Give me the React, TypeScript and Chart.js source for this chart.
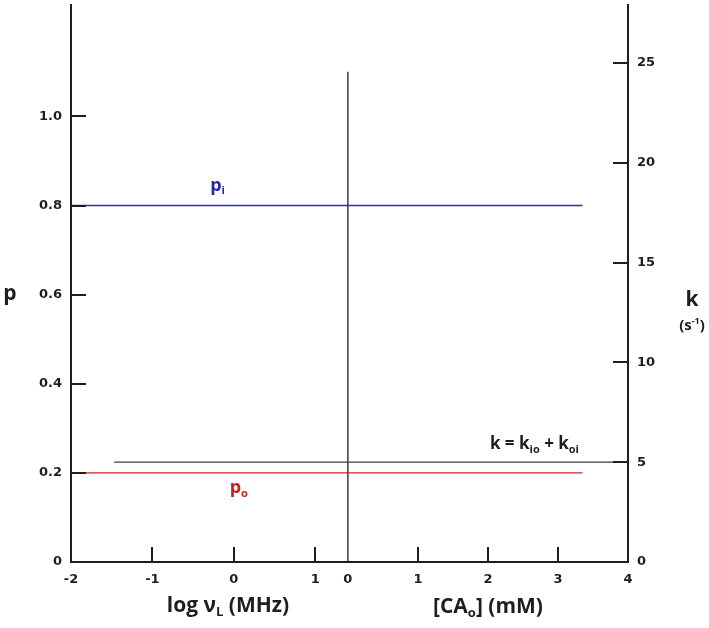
import React, { useEffect, useRef } from "react";
import { Chart, registerables } from "chart.js";

Chart.register(...registerables);

// ---- data ----
const LOG_TICKS = [-2, -1, 0, 1];        // log νL (MHz) axis ticks
const CA_TICKS = [0, 1, 2, 3, 4];        // [CAo] (mM) axis ticks
const LOG_MIN = -2;
const LOG_END = 1.4;                     // log axis ends where the [CAo] axis begins
const CA_UNIT = 0.86;                    // one mM measured in log-units of width
const P_TICKS = [0, 0.2, 0.4, 0.6, 0.8, 1.0];
const K_TICKS = [0, 5, 10, 15, 20, 25];
const P_MAX = 1.25;
const K_MAX = 27.9;

const P_I = [0.8, 0.8];                  // p_i
const P_O = [0.2, 0.2];                  // p_o
const K_SUM = [5, 5];                    // k = kio + koi (s^-1)
const P_SPAN_LOG_START = -2;
const P_SPAN_CA_END = 3.35;
const K_SPAN_LOG_START = -1.47;
const K_SPAN_CA_END = 4;
const SEPARATOR_TOP_P = 1.1;

// composite x coordinate
const fromLog = (v: number) => v - LOG_MIN;
const fromCA = (c: number) => (LOG_END - LOG_MIN) + c * CA_UNIT;

const X_TICK_POS = [...LOG_TICKS.map(fromLog), ...CA_TICKS.map(fromCA)];
const X_TICK_LABELS = [...LOG_TICKS.map(String), ...CA_TICKS.map(String)];

const TICK_FONT = { family: "'DejaVu Sans', sans-serif", size: 13, weight: "bold" as const };
const TITLE_FAMILY = "'Open Sans', Lato, sans-serif";
const AXIS = "#1e1e1e";

type Part = { t: string; sub?: boolean; sup?: boolean };

function drawRich(
  ctx: CanvasRenderingContext2D,
  parts: Part[],
  x: number,
  y: number,
  size: number,
  color: string,
  align: "center" | "right" | "left" = "center"
) {
  const small = Math.round(size * 0.62);
  const fontFor = (p: Part) => `bold ${p.sub || p.sup ? small : size}px ${TITLE_FAMILY}`;
  let total = 0;
  const widths = parts.map((p) => {
    ctx.font = fontFor(p);
    const w = ctx.measureText(p.t).width;
    total += w;
    return w;
  });
  let cx = align === "center" ? x - total / 2 : align === "right" ? x - total : x;
  ctx.save();
  ctx.fillStyle = color;
  ctx.textBaseline = "middle";
  ctx.textAlign = "left";
  parts.forEach((p, i) => {
    ctx.font = fontFor(p);
    const dy = p.sub ? size * 0.32 : p.sup ? -size * 0.32 : 0;
    ctx.fillText(p.t, cx, y + dy);
    cx += widths[i];
  });
  ctx.restore();
}

const decorPlugin = {
  id: "decor",
  afterDraw(chart: any) {
    const ctx: CanvasRenderingContext2D = chart.ctx;
    const { left, right, bottom } = chart.chartArea;
    const xs = chart.scales.x;
    const ys = chart.scales.y;
    const ks = chart.scales.y1;
    const TL = 15;

    // inward tick marks
    ctx.save();
    ctx.strokeStyle = AXIS;
    ctx.lineWidth = 2;
    ctx.beginPath();
    P_TICKS.filter((v) => v > 0).forEach((v) => {
      const py = Math.round(ys.getPixelForValue(v));
      ctx.moveTo(left, py);
      ctx.lineTo(left + TL, py);
    });
    K_TICKS.filter((v) => v > 0).forEach((v) => {
      const py = Math.round(ks.getPixelForValue(v));
      ctx.moveTo(right, py);
      ctx.lineTo(right - TL, py);
    });
    LOG_TICKS.filter((v) => v > LOG_MIN).forEach((v) => {
      const px = Math.round(xs.getPixelForValue(fromLog(v)));
      ctx.moveTo(px, bottom);
      ctx.lineTo(px, bottom - TL);
    });
    CA_TICKS.filter((c) => c > 0 && c < CA_TICKS[CA_TICKS.length - 1]).forEach((c) => {
      const px = Math.round(xs.getPixelForValue(fromCA(c)));
      ctx.moveTo(px, bottom);
      ctx.lineTo(px, bottom - TL);
    });
    ctx.stroke();
    ctx.restore();

    // in-plot labels
    const piY = ys.getPixelForValue(P_I[0]);
    const poY = ys.getPixelForValue(P_O[0]);
    const kY = ks.getPixelForValue(K_SUM[0]);
    drawRich(ctx, [{ t: "p" }, { t: "i", sub: true }], xs.getPixelForValue(fromLog(-0.2)), piY - 20, 18, "#2626a6");
    drawRich(ctx, [{ t: "p" }, { t: "o", sub: true }], xs.getPixelForValue(fromLog(0.06)), poY + 15, 18, "#c81e1e");
    drawRich(
      ctx,
      [{ t: "k = k" }, { t: "io", sub: true }, { t: " + k" }, { t: "oi", sub: true }],
      xs.getPixelForValue(fromCA(3.3)),
      kY - 18,
      17,
      "#1e1e1e",
      "right"
    );

    // axis titles
    drawRich(ctx, [{ t: "p" }], 10, 294, 21, "#1e1e1e");
    drawRich(ctx, [{ t: "k" }], 692, 300, 21, "#1e1e1e");
    drawRich(ctx, [{ t: "(s" }, { t: "-1", sup: true }, { t: ")" }], 692, 326, 15, "#1e1e1e");
    drawRich(ctx, [{ t: "log ν" }, { t: "L", sub: true }, { t: " (MHz)" }], 228, 606, 21, "#1e1e1e");
    drawRich(ctx, [{ t: "[CA" }, { t: "o", sub: true }, { t: "] (mM)" }], 488, 607, 21, "#1e1e1e");
  },
};

export default function App() {
  const ref = useRef<HTMLCanvasElement>(null);

  useEffect(() => {
    if (!ref.current) return;
    const chart = new Chart(ref.current, {
      type: "line",
      data: {
        datasets: [
          {
            label: "p_i",
            data: [
              { x: fromLog(P_SPAN_LOG_START), y: P_I[0] },
              { x: fromCA(P_SPAN_CA_END), y: P_I[1] },
            ],
            borderColor: "#3030ac",
            borderWidth: 1.4,
            pointRadius: 0,
            yAxisID: "y",
          },
          {
            label: "p_o",
            data: [
              { x: fromLog(P_SPAN_LOG_START), y: P_O[0] },
              { x: fromCA(P_SPAN_CA_END), y: P_O[1] },
            ],
            borderColor: "#cc2020",
            borderWidth: 1.4,
            pointRadius: 0,
            yAxisID: "y",
          },
          {
            label: "k",
            data: [
              { x: fromLog(K_SPAN_LOG_START), y: K_SUM[0] },
              { x: fromCA(K_SPAN_CA_END), y: K_SUM[1] },
            ],
            borderColor: "#3a3a3a",
            borderWidth: 1.3,
            pointRadius: 0,
            yAxisID: "y1",
          },
          {
            label: "separator",
            data: [
              { x: fromCA(0), y: 0 },
              { x: fromCA(0), y: SEPARATOR_TOP_P },
            ],
            borderColor: "#1e1e1e",
            borderWidth: 1.3,
            pointRadius: 0,
            yAxisID: "y",
          },
        ],
      },
      options: {
        animation: false,
        responsive: true,
        maintainAspectRatio: false,
        layout: { padding: { top: 5, left: 0, right: 0, bottom: 0 } },
        plugins: { legend: { display: false }, tooltip: { enabled: false } },
        scales: {
          x: {
            type: "linear",
            min: 0,
            max: fromCA(CA_TICKS[CA_TICKS.length - 1]),
            grid: { display: false, drawTicks: false },
            border: { display: true, color: AXIS, width: 2 },
            afterBuildTicks: (scale: any) => {
              scale.ticks = X_TICK_POS.map((v) => ({ value: v }));
            },
            afterFit: (scale: any) => {
              scale.height = 66;
              scale.paddingLeft = 0;
              scale.paddingRight = 0;
            },
            ticks: {
              autoSkip: false,
              maxRotation: 0,
              padding: 10,
              color: "#1e1e1e",
              font: TICK_FONT,
              callback: (_v: any, i: number) => X_TICK_LABELS[i],
            },
          },
          y: {
            type: "linear",
            position: "left",
            min: 0,
            max: P_MAX,
            grid: { display: false, drawTicks: false },
            border: { display: true, color: AXIS, width: 2 },
            afterBuildTicks: (scale: any) => {
              scale.ticks = P_TICKS.map((v) => ({ value: v }));
            },
            afterFit: (scale: any) => {
              scale.width = 71;
              scale.paddingTop = 0;
              scale.paddingBottom = 0;
            },
            ticks: {
              padding: 9,
              color: "#1e1e1e",
              font: TICK_FONT,
              callback: (v: any) => (Number(v) === 0 ? "0" : Number(v).toFixed(1)),
            },
          },
          y1: {
            type: "linear",
            position: "right",
            min: 0,
            max: K_MAX,
            grid: { display: false, drawTicks: false },
            border: { display: true, color: AXIS, width: 2 },
            afterBuildTicks: (scale: any) => {
              scale.ticks = K_TICKS.map((v) => ({ value: v }));
            },
            afterFit: (scale: any) => {
              scale.width = 81;
              scale.paddingTop = 0;
              scale.paddingBottom = 0;
            },
            ticks: {
              padding: 9,
              color: "#1e1e1e",
              font: TICK_FONT,
              callback: (v: any) => String(v),
            },
          },
        },
      } as any,
      plugins: [decorPlugin],
    });
    return () => chart.destroy();
  }, []);

  return (
    <div style={{ position: "fixed", left: 0, top: 0, width: 709, height: 628, background: "#fff" }}>
      <canvas ref={ref} />
    </div>
  );
}
